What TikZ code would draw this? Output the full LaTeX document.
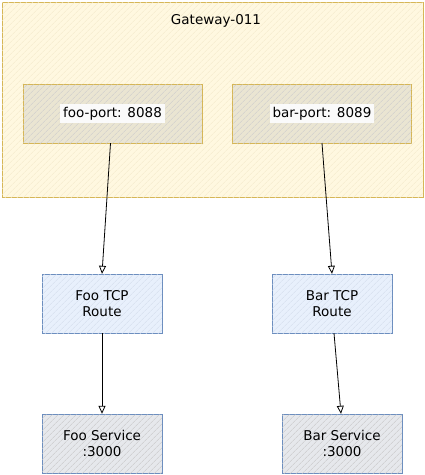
\documentclass[tikz,border=0pt]{standalone}
\usepackage{fontspec}
\setmainfont{DejaVu Sans}
\usepackage{tikz}
\usetikzlibrary{arrows.meta,patterns.meta}

\definecolor{gwfill}{HTML}{FFF8E0}
\definecolor{gwline}{HTML}{D6B656}
\definecolor{portfill}{HTML}{EAE5D2}
\definecolor{rtfill}{HTML}{E8F0FC}
\definecolor{rtline}{HTML}{6C8EBF}
\definecolor{svfill}{HTML}{E6E8EC}

\begin{document}
\begin{tikzpicture}[x=1pt,y=-1pt,
    every node/.style={font=\fontsize{13.5}{16.5}\selectfont},
    hatch/.style={postaction={pattern={Lines[angle=45,distance=4pt,line width=0.5pt]},pattern color=#1}},
    gwbox/.style={draw=gwline,fill=gwfill,hatch=gwline!30},
    portbox/.style={draw=gwline,fill=portfill,hatch=gray!40,minimum width=179pt,minimum height=59pt},
    routebox/.style={draw=rtline,fill=rtfill,hatch=rtline!30,minimum width=120pt,minimum height=59pt,align=center},
    svcbox/.style={draw=rtline,fill=svfill,hatch=gray!45,minimum width=120pt,minimum height=59pt,align=center},
    link/.style={-{Triangle[open,length=8pt,width=7pt]},line width=0.8pt}]

  \useasboundingbox (0,0) rectangle (425,475);

  % the gateway
  \draw[gwbox] (2,2) rectangle (423,197);
  \node (gwtitle) at (216,21) {Gateway-011};

  % listeners
  \node[portbox] (fooport) at (112.5,113.5) {\colorbox{white!96!gray}{foo-port: 8088}};
  \node[portbox] (barport) at (322,113.5) {\colorbox{white!96!gray}{bar-port: 8089}};

  % routes
  \node[routebox] (foort) at (102,303.5) {Foo TCP\\Route};
  \node[routebox] (bart) at (332,303.5) {Bar TCP\\Route};

  % services
  \node[svcbox] (foosvc) at (102,443.5) {Foo Service\\:3000};
  \node[svcbox] (barsvc) at (342,443.5) {Bar Service\\:3000};

  % connections
  \draw[link] ([xshift=-2pt]fooport.south) -- (foort.north);
  \draw[link] (barport.south) -- (bart.north);
  \draw[link] (foort.south) -- (foosvc.north);
  \draw[link] ([xshift=2pt]bart.south) -- ([xshift=-1pt]barsvc.north);
\end{tikzpicture}
\end{document}
